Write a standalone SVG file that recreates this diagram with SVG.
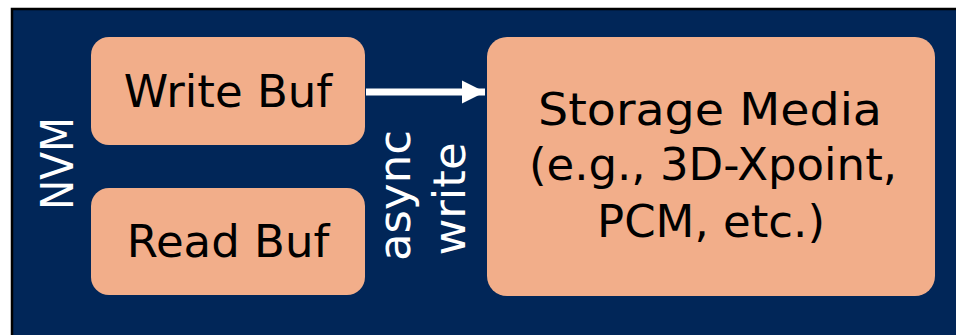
<svg xmlns="http://www.w3.org/2000/svg" width="956" height="335" viewBox="0 0 956 335">
  <style>
    .panel { fill: #012658; stroke: #000000; stroke-width: 2.5; }
    .box { fill: #F2AE8A; }
    .label { font-family: "DejaVu Sans", "Liberation Sans", sans-serif; font-size: 45px; fill: #000000; text-anchor: middle; }
    .side { font-family: "DejaVu Sans", "Liberation Sans", sans-serif; font-size: 45px; fill: #FFFFFF; text-anchor: middle; }
    .edge { stroke: #FFFFFF; stroke-width: 7; fill: none; }
  </style>
  <defs>
    <marker id="head" markerUnits="userSpaceOnUse" markerWidth="24" markerHeight="24" refX="23" refY="12" viewBox="0 0 24 24" orient="auto">
      <path d="M0,0.5 L23,12 L0,23.5 Z" fill="#FFFFFF"/>
    </marker>
  </defs>

  <!-- NVM device panel -->
  <g id="nvm">
    <rect class="panel" x="12" y="9" width="960" height="340"/>
    <text class="side" transform="translate(73,163.5) rotate(-90)" textLength="93" lengthAdjust="spacingAndGlyphs">NVM</text>
  </g>

  <g id="write-buf">
    <rect class="box" x="91" y="37" width="274" height="108" rx="18"/>
    <text class="label" x="228" y="107">Write Buf</text>
  </g>

  <g id="read-buf">
    <rect class="box" x="91" y="188" width="274" height="107" rx="18"/>
    <text class="label" x="228" y="257">Read Buf</text>
  </g>

  <g id="storage-media">
    <rect class="box" x="487" y="37" width="448" height="259" rx="20"/>
    <text class="label" x="710" y="125" textLength="344" lengthAdjust="spacingAndGlyphs">Storage Media</text>
    <text class="label" x="713" y="180">(e.g., 3D-Xpoint,</text>
    <text class="label" x="711" y="237">PCM, etc.)</text>
  </g>

  <!-- asynchronous write path from the write buffer to the media -->
  <g id="connectors">
    <line class="edge" x1="366" y1="92" x2="485" y2="92" marker-end="url(#head)"/>
    <text class="side" transform="translate(410,195.5) rotate(-90)">async</text>
    <text class="side" transform="translate(465,199) rotate(-90)">write</text>
  </g>
</svg>
